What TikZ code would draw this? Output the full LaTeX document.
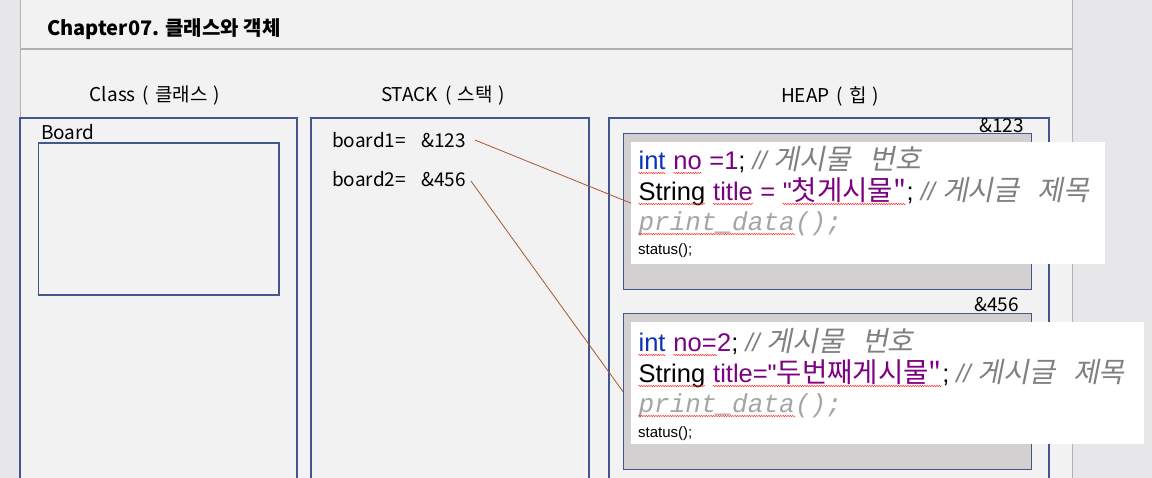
\documentclass[tikz,border=0pt]{standalone}
\usepackage{fontspec}
\setmainfont{Noto Sans CJK KR}
\newfontfamily\codefont{Liberation Sans}
\newfontfamily\krcode[Scale=1.08]{Noto Sans CJK KR}
\newfontfamily\krslant[Scale=1.1,FakeSlant=0.2]{Noto Sans CJK KR}
\newfontfamily\monocode{Liberation Mono}
\usetikzlibrary{positioning,decorations.pathmorphing}
\definecolor{pagebg}{RGB}{242,242,242}
\definecolor{sidebg}{RGB}{231,231,233}
\definecolor{rulegray}{RGB}{178,178,178}
\definecolor{boxline}{RGB}{66,88,140}
\definecolor{objfill}{RGB}{211,208,210}
\definecolor{kwblue}{RGB}{10,50,180}
\definecolor{idpurple}{RGB}{125,0,130}
\definecolor{cmtgray}{RGB}{128,128,128}
\definecolor{monogray}{RGB}{165,165,165}
\definecolor{refline}{RGB}{168,88,48}
% red wavy spell-check mark under a word
\newcommand\spell[1]{\tikz[baseline=(sp.base)]{\node[inner sep=0pt,anchor=base] (sp) {#1};
  \draw[red!85,line width=0.45pt,decorate,decoration={snake,amplitude=0.7pt,segment length=2.4pt}]
    ([yshift=-3pt]sp.base west) -- ([yshift=-3pt]sp.base east);}}
\newcommand\cmt[2]{{\color{cmtgray}\itshape //\ \krslant #1\hspace{18pt}#2}}
\newcommand\paren[2]{#1\hspace{7pt}(\hspace{6pt}#2\hspace{6pt})}
\begin{document}
\begin{tikzpicture}[x=1pt,y=-1pt,
    lbl/.style={inner sep=0pt,font=\fontsize{19}{23}\selectfont},
    panel/.style={draw=boxline,line width=1.3pt},
    objbox/.style={draw=boxline,line width=1.3pt,fill=objfill},
    codebox/.style={fill=white,draw=none},
    codeln/.style={anchor=base west,inner sep=0pt,font=\codefont\fontsize{25.5}{30}\selectfont},
    smallln/.style={anchor=base west,inner sep=0pt,font=\codefont\fontsize{15}{18}\selectfont},
    monoln/.style={anchor=base west,inner sep=0pt,text=monogray,font=\monocode\itshape\fontsize{26}{30}\selectfont},
    ref/.style={draw=refline,line width=0.8pt},
  ]
  \useasboundingbox (0,0) rectangle (1152,478);
  \clip (0,0) rectangle (1152,478);
  % page
  \fill[pagebg] (0,0) rectangle (1152,478);
  \fill[sidebg] (0,0) rectangle (20,478);
  \fill[sidebg] (1072,0) rectangle (1152,478);
  \draw[rulegray,line width=1pt] (20,0) -- (20,478);
  \draw[rulegray,line width=1pt] (1072,0) -- (1072,478);
  \draw[rulegray,line width=2.2pt] (20,49) -- (1072,49);
  \node[anchor=base west,inner sep=0pt,font=\bfseries\fontsize{20}{24}\selectfont] (title) at (47,36) {Chapter07. 클래스와 객체};

  % column heads
  \node[lbl] (hclass) at (155,96) {\paren{Class}{클래스}};
  \node[lbl] (hstack) at (443,96) {\paren{STACK}{스택}};
  \node[lbl] (hheap) at (830,96) {\paren{HEAP}{힙}};

  % class
  \draw[panel] (20,118) rectangle (297,490);
  \node[lbl,anchor=base west] (cname) at (41,140) {Board};
  \draw[panel] (38.5,143) rectangle (279,295);

  % stack
  \draw[panel] (311,118) rectangle (589,490);
  \node[lbl,anchor=base west] (var1) at (332,148) {board1=};
  \node[lbl,anchor=base west] (ref1) at (421,148) {\&123};
  \node[lbl,anchor=base west] (var2) at (332,187) {board2=};
  \node[lbl,anchor=base west] (ref2) at (421,187) {\&456};

  % heap
  \draw[panel] (609,118) rectangle (1049,490);
  \node[lbl,anchor=base east] (addr1) at (1024,133) {\&123};
  \node[objbox,minimum width=408pt,minimum height=156pt,anchor=north west] (obj1) at (623,133) {};
  \node[codebox,minimum width=474pt,minimum height=122pt,anchor=north west] (code1) at (631,142) {};
  \node[codeln] (c1a) at (638,170) {\color{kwblue}\spell{int} \color{idpurple}\spell{no} =1\color{black}; \cmt{게시물}{번호}};
  \node[codeln] (c1b) at (638,201) {\spell{String} \color{idpurple}\spell{title} = \spell{"\krcode 첫게시물"}\color{black}; \cmt{게시글}{제목}};
  \node[monoln] (c1c) at (638,231) {\spell{print\_data}();};
  \node[smallln] (c1d) at (638,255) {status();};

  \node[lbl,anchor=base east] (addr2) at (1019,312) {\&456};
  \node[objbox,minimum width=408pt,minimum height=156pt,anchor=north west] (obj2) at (623,313) {};
  \node[codebox,minimum width=513pt,minimum height=122pt,anchor=north west] (code2) at (631,322) {};
  \node[codeln] (c2a) at (638,352) {\color{kwblue}\spell{int} \color{idpurple}\spell{no=}2\color{black}; \cmt{게시물}{번호}};
  \node[codeln] (c2b) at (638,383) {\spell{String} \color{idpurple}\spell{title="\krcode 두번째게시물"}\color{black}; \cmt{게시글}{제목}};
  \node[monoln] (c2c) at (638,413) {\spell{print\_data}();};
  \node[smallln] (c2d) at (638,437) {status();};

  % references
  \draw[ref] ([xshift=9pt,yshift=1pt]ref1.east) -- (code1.west);
  \draw[ref] ([xshift=5pt,yshift=-1pt]ref2.east) -- (obj2.west);
\end{tikzpicture}
\end{document}
